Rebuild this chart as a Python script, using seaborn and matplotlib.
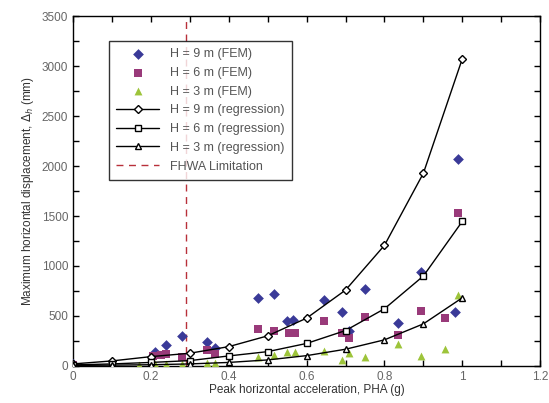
import matplotlib
matplotlib.use("Agg")
import matplotlib.pyplot as plt
from matplotlib.ticker import MultipleLocator
import seaborn as sns
import pandas as pd

# Data
reg_x = [0.0, 0.1, 0.2, 0.3, 0.4, 0.5, 0.6, 0.7, 0.8, 0.9, 1.0]
reg_h9 = [20, 50, 93, 127, 193, 301, 478, 759, 1207, 1929, 3075]
reg_h6 = [10, 20, 35, 53, 100, 143, 225, 354, 572, 900, 1447]
reg_h3 = [5, 8, 12, 20, 35, 60, 103, 167, 261, 421, 682]

fem9_x = [0.0, 0.21, 0.24, 0.28, 0.345, 0.365, 0.475, 0.515, 0.55, 0.565, 0.645, 0.69, 0.71, 0.75, 0.835, 0.895, 0.98, 0.99]
fem9_y = [20, 143, 210, 304, 244, 177, 679, 719, 454, 461, 662, 535, 354, 765, 434, 936, 535, 2066]
fem6_x = [0.0, 0.205, 0.225, 0.24, 0.28, 0.345, 0.365, 0.475, 0.515, 0.555, 0.57, 0.645, 0.69, 0.71, 0.75, 0.835, 0.895, 0.955, 0.99]
fem6_y = [10, 103, 110, 120, 93, 160, 120, 368, 354, 328, 328, 454, 328, 284, 488, 311, 545, 478, 1532]
fem3_x = [0.0, 0.17, 0.21, 0.24, 0.28, 0.345, 0.365, 0.475, 0.515, 0.55, 0.57, 0.645, 0.69, 0.71, 0.75, 0.835, 0.895, 0.955, 0.99]
fem3_y = [5, 10, 20, 20, 15, 30, 30, 93, 110, 143, 143, 147, 60, 127, 93, 217, 103, 171, 709]

fhwa_x = 0.29

sns.set_theme(style="white")
plt.rcParams['font.family'] = ['Liberation Sans', 'DejaVu Sans']

fig = plt.figure(figsize=(5.49, 4.03), dpi=100)
ax = fig.add_axes([0.133, 0.092, 0.851, 0.868])

c9, c6, c3 = "#3a3a98", "#993a7a", "#9dc43a"

sns.scatterplot(x=fem9_x, y=fem9_y, ax=ax, marker="D", color=c9, s=30, edgecolor=c9, linewidth=0, label="H = 9 m (FEM)", zorder=3)
sns.scatterplot(x=fem6_x, y=fem6_y, ax=ax, marker="s", color=c6, s=30, edgecolor=c6, linewidth=0, label="H = 6 m (FEM)", zorder=3)
sns.scatterplot(x=fem3_x, y=fem3_y, ax=ax, marker="^", color=c3, s=32, edgecolor=c3, linewidth=0, label="H = 3 m (FEM)", zorder=3)

sns.lineplot(x=reg_x, y=reg_h9, ax=ax, color="black", linewidth=1, marker="D", markersize=4.5,
             markerfacecolor="white", markeredgecolor="black", markeredgewidth=1, label="H = 9 m (regression)", zorder=4)
sns.lineplot(x=reg_x, y=reg_h6, ax=ax, color="black", linewidth=1, marker="s", markersize=4.5,
             markerfacecolor="white", markeredgecolor="black", markeredgewidth=1, label="H = 6 m (regression)", zorder=4)
sns.lineplot(x=reg_x, y=reg_h3, ax=ax, color="black", linewidth=1, marker="^", markersize=4.5,
             markerfacecolor="white", markeredgecolor="black", markeredgewidth=1, label="H = 3 m (regression)", zorder=4)

ax.axvline(fhwa_x, color="#b8303a", linestyle=(0, (5, 4)), linewidth=1, label="FHWA Limitation", zorder=2)

ax.set_xlim(0, 1.2)
ax.set_ylim(0, 3500)
ax.xaxis.set_major_locator(MultipleLocator(0.2))
ax.xaxis.set_minor_locator(MultipleLocator(0.1))
ax.yaxis.set_major_locator(MultipleLocator(500))
ax.yaxis.set_minor_locator(MultipleLocator(250))
ax.set_xticks([0, 0.2, 0.4, 0.6, 0.8, 1.0, 1.2])
ax.set_xticklabels(["0", "0.2", "0.4", "0.6", "0.8", "1", "1.2"])
ax.tick_params(which="both", direction="in", top=True, right=True, bottom=True, left=True,
               colors="black", labelcolor="#666666", labelsize=8.5)
ax.tick_params(which="major", length=4, width=1)
ax.tick_params(which="minor", length=4, width=1)
for s in ax.spines.values():
    s.set_color("black")
    s.set_linewidth(1)

ax.set_xlabel("Peak horizontal acceleration, PHA (g)", fontsize=8.5, color="#333333", labelpad=1)
ax.set_ylabel("Maximum horizontal displacement, $\\Delta_h$ (mm)", fontsize=8.5, color="#333333", labelpad=4)

leg = ax.legend(loc="upper left", bbox_to_anchor=(0.077, 0.93), frameon=True, fancybox=False,
                edgecolor="black", fontsize=9, handlelength=3.4, borderpad=0.6, labelspacing=0.54,
                handletextpad=0.9, borderaxespad=0)
leg.get_frame().set_linewidth(1)
for t in leg.get_texts():
    t.set_color("#555555")

fig.savefig("out.png", dpi=100, facecolor="white")
